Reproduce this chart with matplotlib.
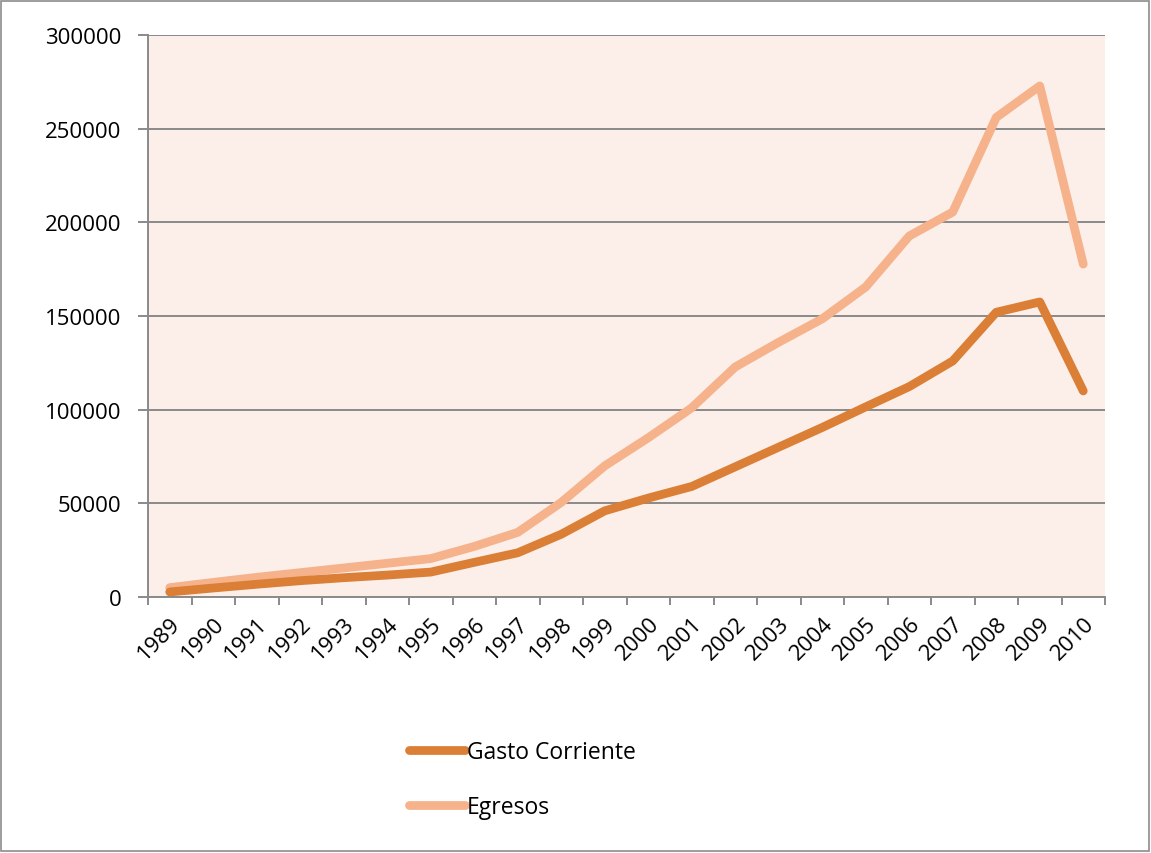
import matplotlib
matplotlib.use("Agg")
import matplotlib.pyplot as plt
from matplotlib.lines import Line2D
from matplotlib.patches import Rectangle
import numpy as np

years = ["1989", "1990", "1991", "1992", "1993", "1994", "1995", "1996", "1997", "1998", "1999",
         "2000", "2001", "2002", "2003", "2004", "2005", "2006", "2007", "2008", "2009", "2010"]
gasto_corriente = [2700, 4800, 6800, 8700, 10300, 11700, 13300, 18500, 23600, 33500, 46000,
                   52800, 59000, 69500, 80000, 90500, 101500, 112300, 126000, 152000, 157500, 110000]
egresos = [5000, 7800, 10500, 13000, 15500, 18000, 20500, 27000, 34500, 50500, 70000,
           85000, 101000, 122800, 136000, 148500, 165500, 192700, 205500, 256000, 272800, 177700]
y_ticks = [0, 50000, 100000, 150000, 200000, 250000, 300000]

plt.rcParams['font.family'] = ['Open Sans', 'DejaVu Sans']

W, H = 1151, 854
fig = plt.figure(figsize=(W / 100, H / 100), dpi=100)
fig.patch.set_facecolor('white')
fig.patches.append(Rectangle((1 / W, 2 / H), (W - 3) / W, (H - 4) / H, transform=fig.transFigure,
                             fill=False, edgecolor='#8c8c8c', linewidth=1.2))

left, right, top, bottom = 148, 1105, 36, 598
ax = fig.add_axes([left / W, 1 - bottom / H, (right - left) / W, (bottom - top) / H])
ax.set_facecolor('#fcefea')

x = np.arange(len(years))
c_gasto = '#da7f35'
c_egr = '#f6b28b'
ax.plot(x, egresos, color=c_egr, linewidth=6.3, solid_capstyle='round', solid_joinstyle='round', zorder=3)
ax.plot(x, gasto_corriente, color=c_gasto, linewidth=6.3, solid_capstyle='round', solid_joinstyle='round', zorder=4)

ax.set_xlim(-0.5, len(years) - 0.5)
ax.set_ylim(0, 300000)
ax.set_yticks(y_ticks)
ax.set_yticklabels([str(v) for v in y_ticks], fontsize=16)
ax.yaxis.grid(True, color='#8a8a8a', linewidth=1.4)
ax.set_axisbelow(True)

ax.set_xticks(x)
ax.set_xticklabels(years, rotation=45, ha='right', va='top', rotation_mode='anchor', fontsize=16)
ax.set_xticks(np.arange(-0.5, len(years)), minor=True)
ax.tick_params(axis='x', which='major', length=0, pad=11)
ax.tick_params(axis='x', which='minor', length=6, width=1.4, color='#8a8a8a')
ax.tick_params(axis='y', length=7, width=1.4, color='#8a8a8a', pad=12)
for s in ['top', 'right']:
    ax.spines[s].set_visible(False)
for s in ['left', 'bottom']:
    ax.spines[s].set_color('#8a8a8a')
    ax.spines[s].set_linewidth(1.4)

handles = [Line2D([], [], color=c_gasto, linewidth=6.3, solid_capstyle='round'),
           Line2D([], [], color=c_egr, linewidth=6.3, solid_capstyle='round')]
fig.legend(handles, ["Gasto Corriente", "Egresos"], loc='upper left',
           bbox_to_anchor=(388 / W, 1 - 720 / H), frameon=False, fontsize=16.5,
           handlelength=2.45, handletextpad=0.1, labelspacing=1.35)

fig.savefig('out.png', dpi=100)
